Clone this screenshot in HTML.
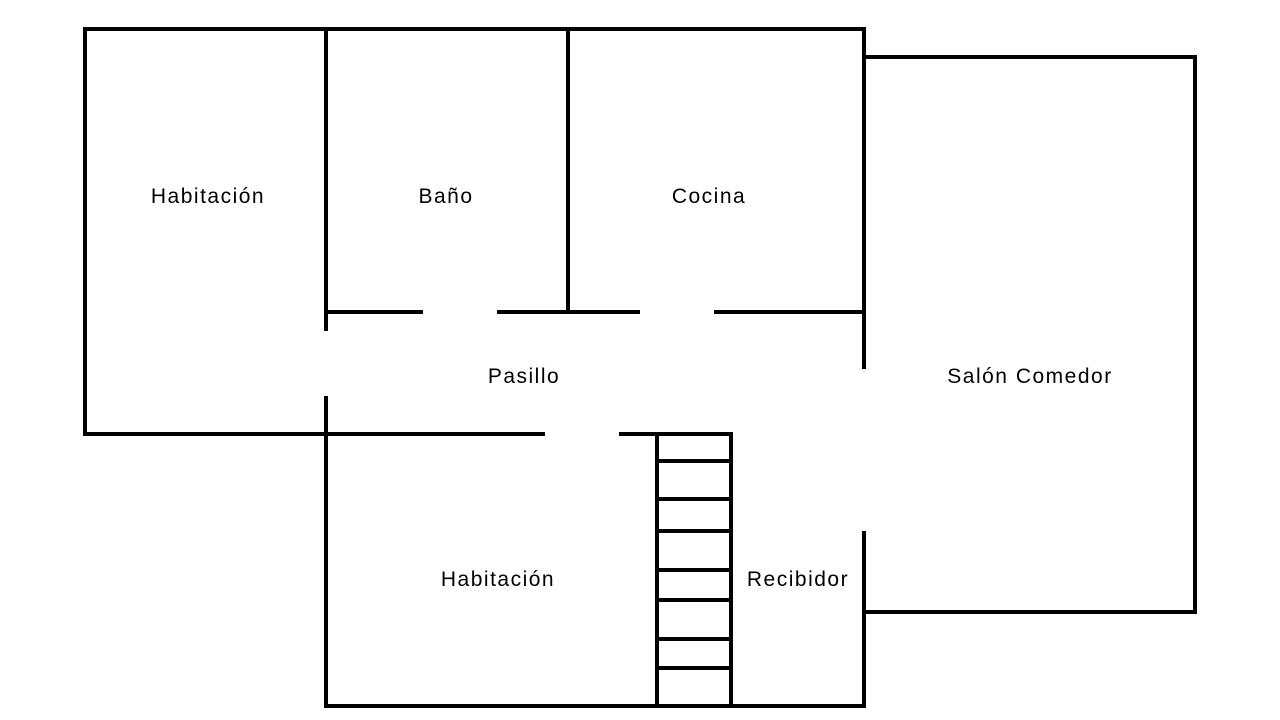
<!DOCTYPE html>
<html><head><style>html,body{margin:0;padding:0;background:#fff}svg{display:block}text{font-family:"Liberation Sans",sans-serif;font-size:21px;letter-spacing:1.5px;fill:#000;text-anchor:middle}</style></head>
<body>
<svg width="1280" height="720" viewBox="0 0 1280 720" xmlns="http://www.w3.org/2000/svg">
<g stroke="#000" stroke-width="4" fill="none" stroke-linecap="butt">
<line x1="83" y1="29" x2="866" y2="29"/>
<line x1="85" y1="27" x2="85" y2="436"/>
<line x1="83" y1="434" x2="545" y2="434"/>
<line x1="326" y1="29" x2="326" y2="331"/>
<line x1="326" y1="396" x2="326" y2="708"/>
<line x1="324" y1="706" x2="866" y2="706"/>
<line x1="568" y1="29" x2="568" y2="312"/>
<line x1="326" y1="312" x2="423" y2="312"/>
<line x1="497" y1="312" x2="640" y2="312"/>
<line x1="714" y1="312" x2="864" y2="312"/>
<line x1="864" y1="27" x2="864" y2="369"/>
<line x1="864" y1="531" x2="864" y2="708"/>
<line x1="864" y1="57" x2="1197" y2="57"/>
<line x1="1195" y1="57" x2="1195" y2="614"/>
<line x1="864" y1="612" x2="1197" y2="612"/>
<line x1="619" y1="434" x2="733" y2="434"/>
<line x1="657" y1="434" x2="657" y2="706"/>
<line x1="731" y1="434" x2="731" y2="706"/>
<line x1="657" y1="461" x2="731" y2="461"/>
<line x1="657" y1="499" x2="731" y2="499"/>
<line x1="657" y1="531" x2="731" y2="531"/>
<line x1="657" y1="570" x2="731" y2="570"/>
<line x1="657" y1="600" x2="731" y2="600"/>
<line x1="657" y1="639" x2="731" y2="639"/>
<line x1="657" y1="668" x2="731" y2="668"/>
</g>
<text x="208" y="203">Habitación</text>
<text x="446" y="203">Baño</text>
<text x="709" y="203">Cocina</text>
<text x="524" y="383">Pasillo</text>
<text x="1030" y="383">Salón Comedor</text>
<text x="498" y="586">Habitación</text>
<text x="798" y="586">Recibidor</text>
</svg>
</body></html>
